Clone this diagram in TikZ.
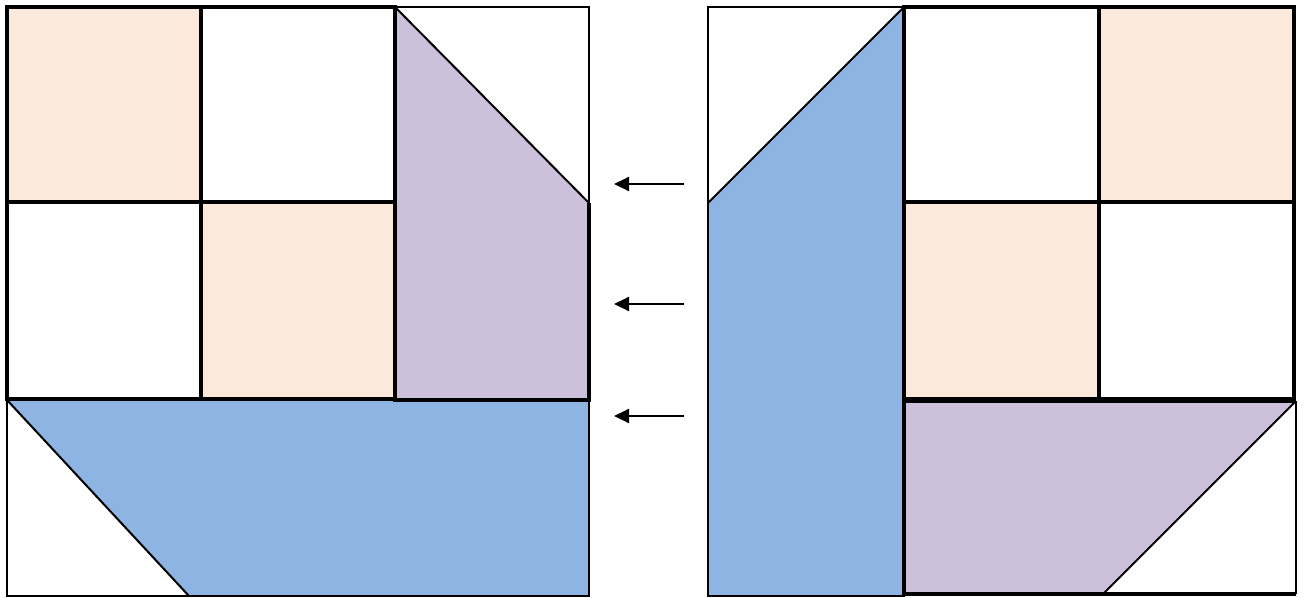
\documentclass[tikz,border=0pt]{standalone}
\usepackage{xcolor}
\usepackage{tikz}
\usetikzlibrary{arrows.meta, positioning}

\definecolor{peach}{HTML}{FBE9DB}
\definecolor{lilac}{HTML}{CCC0DA}
\definecolor{skyblue}{HTML}{8EB4E3}

\begin{document}
\begin{tikzpicture}[x=1pt, y=-1pt,
    thinline/.style = {draw=black, line width=2pt},
    thickline/.style = {draw=black, line width=3.3pt},
    shift arrow/.style = {-{Triangle[length=15pt, width=14pt]}, line width=2pt}]
    \useasboundingbox (0,0) rectangle (1305,597);

    % left block: fills
    \fill [peach] (7,7) rectangle (201,202);
    \fill [peach] (201,202) rectangle (395,399);
    \fill [lilac] (395,7) -- (589,203) -- (589,400) -- (395,400) -- cycle;
    \fill [skyblue] (7,400) -- (589,400) -- (589,596) -- (189,596) -- cycle;

    % left block: thin outlines
    \draw [thinline] (395,7) -- (589,7) -- (589,203);
    \draw [thinline] (7,400) rectangle (589,596);
    \draw [thinline] (395,7) -- (589,203);
    \draw [thinline] (7,400) -- (189,596);

    % left block: thick outlines
    \draw [thickline] (7,7) rectangle (395,399);
    \draw [thickline] (201,7) -- (201,399);
    \draw [thickline] (7,202) -- (395,202);
    \draw [thickline] (395,7) -- (395,400) -- (589,400) -- (589,203);

    % right block: fills
    \fill [skyblue] (904,7) -- (904,596) -- (708,596) -- (708,203) -- cycle;
    \fill [peach] (1099,7) rectangle (1294,202);
    \fill [peach] (904,202) rectangle (1099,399);
    \fill [lilac] (904,401) -- (1296,401) -- (1103,594) -- (904,594) -- cycle;

    % right block: thin outlines
    \draw [thinline] (708,7) rectangle (904,596);
    \draw [thinline] (708,203) -- (904,7);
    \draw [thinline] (1296,401) -- (1103,594);
    \draw [thinline] (1296,401) -- (1296,594);

    % right block: thick outlines
    \draw [thickline] (904,7) rectangle (1294,399);
    \draw [thickline] (1099,7) -- (1099,399);
    \draw [thickline] (904,202) -- (1294,202);
    \draw [thickline] (1296,401) -- (904,401) -- (904,594) -- (1296,594);

    % arrows
    \coordinate (s1) at (684,184);
    \coordinate (e1) at (614,184);
    \coordinate (s2) at (684,304);
    \coordinate (e2) at (614,304);
    \coordinate (s3) at (684,416);
    \coordinate (e3) at (614,416);
    \draw [shift arrow] (s1) -- (e1);
    \draw [shift arrow] (s2) -- (e2);
    \draw [shift arrow] (s3) -- (e3);
\end{tikzpicture}
\end{document}
